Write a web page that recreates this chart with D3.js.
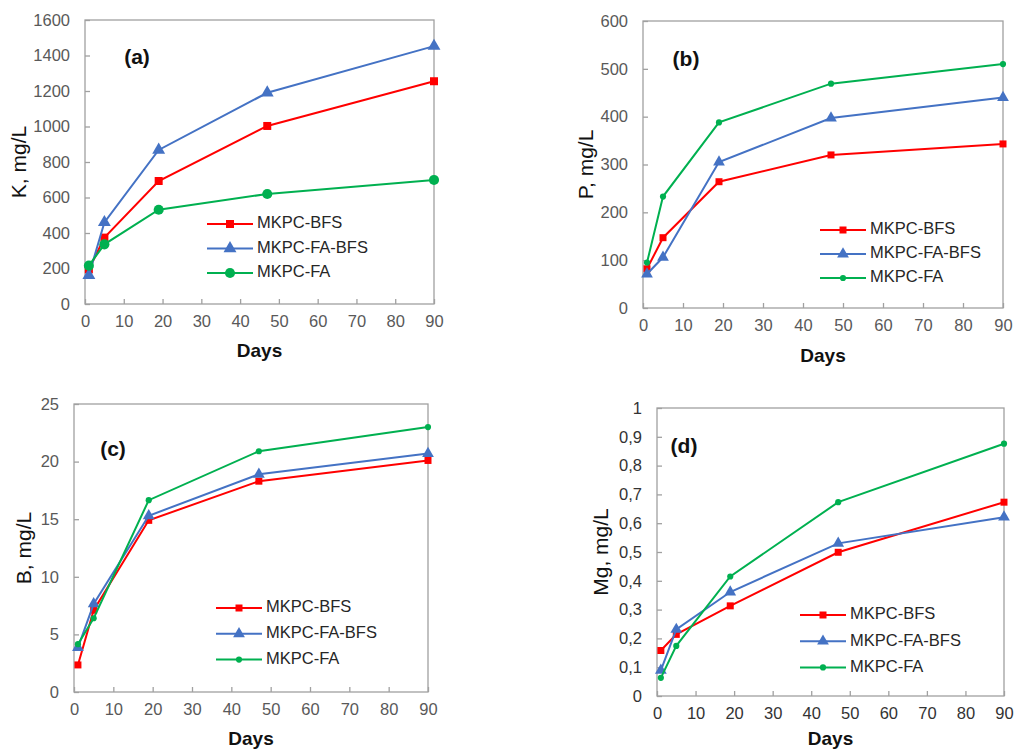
<!DOCTYPE html>
<html>
<head>
<meta charset="utf-8">
<script src="https://cdn.jsdelivr.net/npm/d3@7"></script>
<style>
  body { margin: 0; background: #fff; }
  svg { display: block; font-family: "Liberation Sans", Arial, sans-serif; }
  .tick line { stroke: #a0a0a0; stroke-width: 1.3; }
</style>
</head>
<body>
<svg width="1014" height="752"></svg>
<script>
// data
const days = [1, 5, 19, 47, 90];
const seriesNames = ['MKPC-BFS', 'MKPC-FA-BFS', 'MKPC-FA'];
const seriesColors = ['#ff0000', '#4472c4', '#00b050'];

const kBFS   = [195, 374, 693, 1003, 1255];
const kFABFS = [162, 460, 868, 1190, 1453];
const kFA    = [216, 336, 531, 620, 699];

const pBFS   = [82, 147, 264, 320, 343];
const pFABFS = [71, 106, 305, 397, 440];
const pFA    = [95, 233, 388, 469, 510];

const bBFS   = [2.35, 7.1, 14.9, 18.3, 20.1];
const bFABFS = [3.85, 7.65, 15.3, 18.9, 20.7];
const bFA    = [4.15, 6.4, 16.65, 20.9, 23.0];

const mgBFS   = [0.158, 0.214, 0.313, 0.499, 0.673];
const mgFABFS = [0.089, 0.231, 0.361, 0.530, 0.621];
const mgFA    = [0.063, 0.174, 0.415, 0.673, 0.876];

const xTicks = [0, 10, 20, 30, 40, 50, 60, 70, 80, 90];
const kTicks = [0, 200, 400, 600, 800, 1000, 1200, 1400, 1600];
const pTicks = [0, 100, 200, 300, 400, 500, 600];
const bTicks = [0, 5, 10, 15, 20, 25];
const mgTicks = [0, 0.1, 0.2, 0.3, 0.4, 0.5, 0.6, 0.7, 0.8, 0.9, 1];
const mgTickLabels = ['0', '0,1', '0,2', '0,3', '0,4', '0,5', '0,6', '0,7', '0,8', '0,9', '1'];

const svg = d3.select('svg');

// panel layout
const panels = [
  { tag: '(a)', yLabel: 'K, mg/L', series: [kBFS, kFABFS, kFA], yTicks: kTicks, yMax: 1600,
    box: { left: 85, right: 434, top: 20, bottom: 304 },
    tagPos: [52, 38], daysDy: 48, yLabX: -65, tickColor: '#595959',
    legend: { x: 207, y: 224, gap: 24.5 }, sizes: [64, 72, 80] },
  { tag: '(b)', yLabel: 'P, mg/L', series: [pBFS, pFABFS, pFA], yTicks: pTicks, yMax: 600,
    box: { left: 643, right: 1003, top: 21, bottom: 308 },
    tagPos: [43, 39], daysDy: 49, yLabX: -56, tickColor: '#595959',
    legend: { x: 820, y: 230, gap: 24 }, sizes: [49, 60, 30] },
  { tag: '(c)', yLabel: 'B, mg/L', series: [bBFS, bFABFS, bFA], yTicks: bTicks, yMax: 25,
    box: { left: 74, right: 428, top: 404, bottom: 692 },
    tagPos: [39, 46], daysDy: 48, yLabX: -49, tickColor: '#595959',
    legend: { x: 216, y: 608, gap: 25.8 }, sizes: [49, 60, 30] },
  { tag: '(d)', yLabel: 'Mg, mg/L', series: [mgBFS, mgFABFS, mgFA], yTicks: mgTicks, yMax: 1,
    yLabels: mgTickLabels,
    box: { left: 657, right: 1004, top: 408, bottom: 696 },
    tagPos: [27, 39], daysDy: 44, yLabX: -55, tickColor: '#333333',
    legend: { x: 800, y: 615, gap: 26.2 }, sizes: [49, 60, 30] }
];

const shapes = [d3.symbolSquare, d3.symbolTriangle, d3.symbolCircle];

panels.forEach(p => {
  const b = p.box;
  const w = b.right - b.left;
  const h = b.bottom - b.top;

  const xScale = d3.scaleLinear().domain([0, 90]).range([0, w]);
  const yScale = d3.scaleLinear().domain([0, p.yMax]).range([h, 0]);

  const g = svg.append('g').attr('transform', `translate(${b.left},${b.top})`);

  // x axis, ticks pointing inside
  const xAxisG = g.append('g')
    .attr('transform', `translate(0,${h})`)
    .call(d3.axisBottom(xScale).tickValues(xTicks).tickFormat(d3.format('d'))
      .tickSizeInner(-5).tickSizeOuter(0).tickPadding(11));

  const yAxis = d3.axisLeft(yScale).tickValues(p.yTicks)
    .tickSizeInner(-5).tickSizeOuter(0).tickPadding(15)
    .tickFormat(p.yLabels ? (d, i) => p.yLabels[i] : d3.format('d'));
  const yAxisG = g.append('g').call(yAxis);

  [xAxisG, yAxisG].forEach(a => {
    a.select('.domain').remove();
    a.selectAll('text').style('font-size', '16.5px').style('fill', p.tickColor);
  });

  // plot frame
  g.append('rect')
    .attr('width', w).attr('height', h)
    .attr('fill', 'none').attr('stroke', '#a0a0a0').attr('stroke-width', 1.3);

  const line = d3.line().x((d, i) => xScale(days[i])).y(d => yScale(d));

  p.series.forEach((vals, si) => {
    g.append('path')
      .datum(vals)
      .attr('d', line)
      .attr('fill', 'none')
      .attr('stroke', seriesColors[si])
      .attr('stroke-width', 2);

    g.selectAll(null).data(vals).enter().append('path')
      .attr('transform', (d, i) => `translate(${xScale(days[i])},${yScale(d)})`)
      .attr('d', d3.symbol(shapes[si], p.sizes[si]))
      .attr('fill', seriesColors[si]);
  });

  // panel tag
  g.append('text')
    .attr('x', p.tagPos[0]).attr('y', p.tagPos[1])
    .attr('text-anchor', 'middle').attr('dominant-baseline', 'middle')
    .style('font-size', '21px').style('font-weight', 'bold').style('fill', '#111')
    .text(p.tag);

  // axis titles
  g.append('text')
    .attr('x', w / 2).attr('y', h + p.daysDy)
    .attr('text-anchor', 'middle').attr('dominant-baseline', 'middle')
    .style('font-size', '19px').style('font-weight', 'bold').style('fill', '#111')
    .text('Days');

  g.append('text')
    .attr('transform', `translate(${p.yLabX},${h / 2}) rotate(-90)`)
    .attr('text-anchor', 'middle').attr('dominant-baseline', 'middle')
    .style('font-size', '21px').style('fill', '#111')
    .text(p.yLabel);

  // legend
  const lg = svg.append('g').attr('transform', `translate(${p.legend.x},${p.legend.y})`);
  seriesNames.forEach((name, si) => {
    const row = lg.append('g').attr('transform', `translate(0,${si * p.legend.gap})`);
    row.append('line')
      .attr('x1', 0).attr('x2', 46).attr('y1', 0).attr('y2', 0)
      .attr('stroke', seriesColors[si]).attr('stroke-width', 2);
    row.append('path')
      .attr('transform', 'translate(23,0)')
      .attr('d', d3.symbol(shapes[si], p.sizes[si]))
      .attr('fill', seriesColors[si]);
    row.append('text')
      .attr('x', 50).attr('y', 0)
      .attr('dominant-baseline', 'middle')
      .style('font-size', '16.5px').style('fill', '#262626')
      .text(name);
  });
});
</script>
</body>
</html>
